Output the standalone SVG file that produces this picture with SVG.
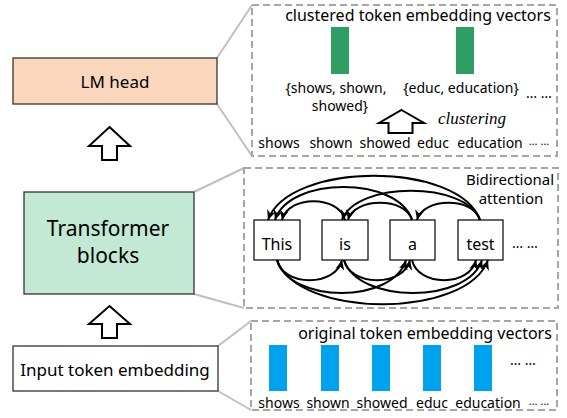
<svg xmlns="http://www.w3.org/2000/svg" width="567" height="418" viewBox="0 0 567 418">
<defs>
<style>
.t{font-family:"Noto Sans","Open Sans","DejaVu Sans",sans-serif;fill:#000}
.dash{fill:none;stroke:#a6a6a6;stroke-width:2;stroke-dasharray:7 4}
.gl{stroke:#bfbfbf;stroke-width:2;fill:none}
.box{stroke:#333;stroke-width:1.3}
.tok{fill:#fff;stroke:#000;stroke-width:1.2}
.arc{fill:none;stroke:#000;stroke-width:2;marker-end:url(#ah)}
.hollow{fill:#fff;stroke:#000;stroke-width:2;stroke-linejoin:miter}
.green{fill:#2f9e62}
.blue{fill:#00a2ed}
</style>
<marker id="ah" markerUnits="userSpaceOnUse" markerWidth="11" markerHeight="9" refX="10" refY="4.5" orient="auto">
<path d="M0,0 L10,4.5 L0,9 L3,4.5 z" fill="#000"/>
</marker>
</defs>

<g id="connectors">
<line class="gl" x1="217" y1="58" x2="252" y2="5"/>
<line class="gl" x1="217" y1="104" x2="252" y2="156"/>
<line class="gl" x1="194" y1="192" x2="244" y2="168"/>
<line class="gl" x1="194" y1="294" x2="244" y2="308"/>
<line class="gl" x1="218" y1="346" x2="251" y2="321"/>
<line class="gl" x1="218" y1="391" x2="251" y2="410"/>
<polygon class="hollow" points="109.5,127 130,146 117,146 117,160 102,160 102,146 89,146"/>
<polygon class="hollow" points="109.5,306 130,324 117,324 117,338 102,338 102,324 89,324"/>
</g>

<g id="lm-head">
<rect class="box" x="13" y="58" width="204" height="46" fill="#fad6bd"/>
<text class="t" x="115" y="88" font-size="17" text-anchor="middle">LM head</text>
</g>

<g id="transformer-blocks">
<rect class="box" x="24" y="192" width="170" height="102" fill="#c3e9d5"/>
<text class="t" x="108" y="236" font-size="21" text-anchor="middle">Transformer</text>
<text class="t" x="108" y="263" font-size="21" text-anchor="middle">blocks</text>
</g>

<g id="input-embedding">
<rect class="box" x="13" y="346" width="205" height="45" fill="#fff"/>
<text class="t" x="115" y="376" font-size="17" text-anchor="middle">Input token embedding</text>
</g>

<g id="clustered-panel">
<rect class="dash" x="252" y="5" width="305" height="151"/>
<text class="t" x="418" y="21" font-size="16" text-anchor="middle">clustered token embedding vectors</text>
<rect class="green" x="331" y="27" width="18" height="47"/>
<rect class="green" x="456" y="27" width="18" height="47"/>
<text class="t" x="336" y="93" font-size="14" text-anchor="middle">{shows, shown,</text>
<text class="t" x="340" y="111" font-size="14" text-anchor="middle">showed}</text>
<text class="t" x="461" y="93" font-size="14" text-anchor="middle">{educ, education}</text>
<text class="t" x="539" y="98" font-size="14" text-anchor="middle">… …</text>
<polygon class="hollow" points="401.5,110 424,123 412.5,123 412.5,133 388.5,133 388.5,123 379,123"/>
<text x="472" y="124" font-family="Liberation Serif,serif" font-style="italic" font-size="17" text-anchor="middle">clustering</text>
<text class="t" x="279" y="148" font-size="14" text-anchor="middle">shows</text>
<text class="t" x="331" y="148" font-size="14" text-anchor="middle">shown</text>
<text class="t" x="385" y="148" font-size="14" text-anchor="middle">showed</text>
<text class="t" x="433" y="148" font-size="14" text-anchor="middle">educ</text>
<text class="t" x="490" y="148" font-size="14" text-anchor="middle">education</text>
<text class="t" x="539" y="145" font-size="11" text-anchor="middle">… …</text>
</g>

<g id="attention-panel">
<rect class="dash" x="244" y="168" width="314" height="140"/>
<text class="t" x="510" y="185" font-size="15" text-anchor="middle">Bidirectional</text>
<text class="t" x="511" y="204" font-size="15" text-anchor="middle">attention</text>
</g>

<g id="tok-this"><rect class="tok" x="254" y="220" width="46" height="40"/><text class="t" x="277" y="250" font-size="16" text-anchor="middle">This</text></g>
<g id="tok-is"><rect class="tok" x="322" y="220" width="46" height="40"/><text class="t" x="345" y="250" font-size="16" text-anchor="middle">is</text></g>
<g id="tok-a"><rect class="tok" x="390" y="220" width="45" height="40"/><text class="t" x="412.5" y="250" font-size="16" text-anchor="middle">a</text></g>
<g id="tok-test"><rect class="tok" x="458" y="220" width="45" height="40"/><text class="t" x="480.5" y="250" font-size="16" text-anchor="middle">test</text></g>
<text class="t" x="525" y="248" font-size="14" text-anchor="middle">… …</text>

<g id="attention-arcs">
<path class="arc" d="M345,220 C339,195 288,195 282,220"/>
<path class="arc" d="M412,220 C398,176 289,176 275,220"/>
<path class="arc" d="M480,220 C459,161 289,161 268,220"/>
<path class="arc" d="M412,220 C406,197 354,197 348,220"/>
<path class="arc" d="M480,220 C466,181 356,181 342,220"/>
<path class="arc" d="M480,220 C474,197 423,197 417,220"/>
<path class="arc" d="M277,260 C283,287 336,287 342,260"/>
<path class="arc" d="M344,260 C350,287 404,287 410,260"/>
<path class="arc" d="M412,260 C418,287 470,287 476,260"/>
<path class="arc" d="M277,260 C290,304 393,304 406,260"/>
<path class="arc" d="M344,260 C358,304 468,304 482,260"/>
<path class="arc" d="M277,260 C298,319 467,319 488,260"/>
</g>

<g id="original-panel">
<rect class="dash" x="251" y="321" width="306" height="89"/>
<text class="t" x="425" y="339" font-size="16" text-anchor="middle">original token embedding vectors</text>
<rect class="blue" x="269" y="345" width="18" height="46"/>
<rect class="blue" x="321" y="345" width="18" height="46"/>
<rect class="blue" x="372" y="345" width="18" height="46"/>
<rect class="blue" x="423" y="345" width="18" height="46"/>
<rect class="blue" x="474" y="345" width="18" height="46"/>
<text class="t" x="523" y="365" font-size="14" text-anchor="middle">… …</text>
<text class="t" x="279" y="408" font-size="14" text-anchor="middle">shows</text>
<text class="t" x="328" y="408" font-size="14" text-anchor="middle">shown</text>
<text class="t" x="382" y="408" font-size="14" text-anchor="middle">showed</text>
<text class="t" x="432" y="408" font-size="14" text-anchor="middle">educ</text>
<text class="t" x="488" y="408" font-size="14" text-anchor="middle">education</text>
<text class="t" x="539" y="405" font-size="11" text-anchor="middle">… …</text>
</g>
</svg>
